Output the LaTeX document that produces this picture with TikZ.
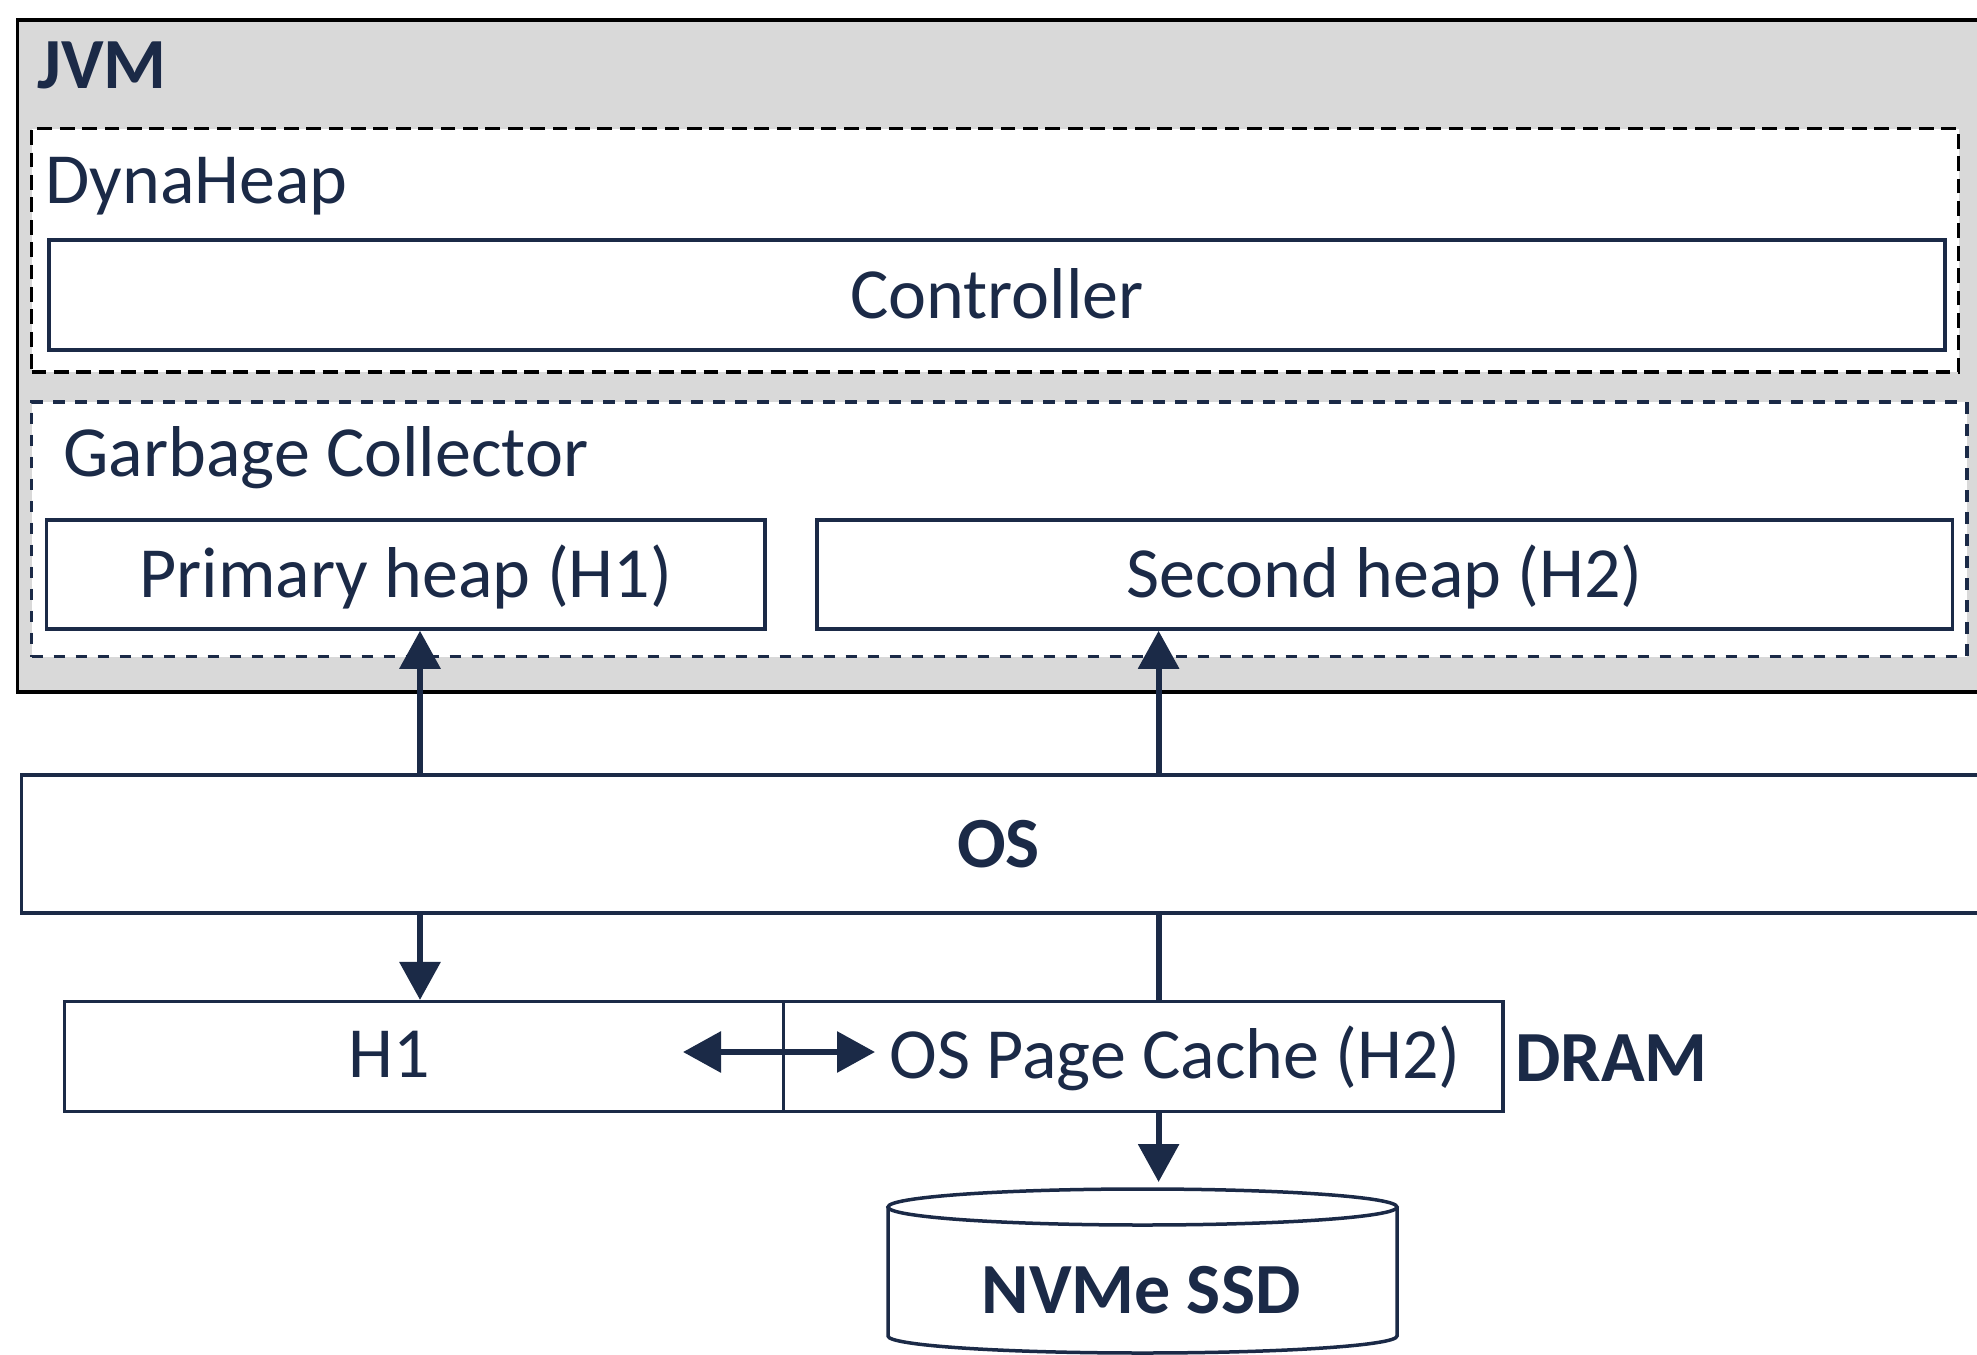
\documentclass[tikz,border=0pt]{standalone}
\usepackage{fontspec}
\setmainfont{Carlito}
\usetikzlibrary{arrows.meta}
\definecolor{navy}{HTML}{1B2A47}
\definecolor{jvmgray}{HTML}{D9D9D9}
\begin{document}
\begin{tikzpicture}[x=0.5pt,y=-0.5pt,
  txt/.style={font=\fontsize{36pt}{43pt}\selectfont, text=navy, inner sep=0pt},
  btxt/.style={font=\fontsize{36pt}{43pt}\selectfont\bfseries, text=navy, inner sep=0pt},
  capc/.style={text height=23.2pt, text depth=0pt},
  box/.style={draw=navy, line width=1.75pt, fill=white, inner sep=0pt},
  tip/.tip={Triangle[length=19pt,width=20pt]},
  arr/.style={draw=navy, line width=3.1pt, -tip},
  darr/.style={draw=navy, line width=3.1pt, tip-tip},
  link/.style={draw=navy, line width=3.1pt}]
\useasboundingbox (0,0) rectangle (1977,1355);
\clip (0,0) rectangle (1977,1355);

% JVM container
\node[draw=black, line width=1.75pt, fill=jvmgray, inner sep=0pt,
      minimum width=996.2pt, minimum height=336pt] (jvm) at (1013.8,356) {};
\node[btxt, anchor=base west] (jvmlabel) at (37,88) {JVM};

% DynaHeap container
\node[draw=black, line width=1.8pt, fill=white, dash pattern=on 7.4pt off 3.8pt, inner sep=0pt,
      minimum width=963.5pt, minimum height=121.75pt] (dyna) at (995,250.25) {};
\node[txt, anchor=base west] (dynalabel) at (45,203) {DynaHeap};
\node[box, txt, capc, minimum width=948pt, minimum height=55pt] (ctrl) at (997,295) {Controller};

% Garbage collector container
\node[draw=navy, line width=1.8pt, fill=white, dash pattern=on 5.8pt off 5.2pt, inner sep=0pt,
      minimum width=967.6pt, minimum height=127.35pt] (gc) at (999.1,529.15) {};
\node[txt, anchor=base west] (gclabel) at (63,476) {Garbage Collector};
\node[box, txt, capc, minimum width=359.2pt, minimum height=54.5pt] (ph) at (405.8,574.5) {Primary heap (H1)};
\node[box, txt, capc, minimum width=567.8pt, minimum height=54.5pt] (sh) at (1384.8,574.5) {Second heap (H2)};

% OS
\node[box, minimum width=994.3pt, minimum height=69pt] (os) at (1015.7,844) {};
\node[btxt, anchor=base] (oslabel) at (998.5,867) {OS};

% DRAM boxes
\node[box, minimum width=359.65pt, minimum height=55pt] (h1) at (423.95,1056.7) {};
\node[box, minimum width=359.7pt, minimum height=55pt] (pc) at (1143.3,1056.7) {};
\node[txt, anchor=base] (h1label) at (389,1077.7) {H1};
\node[txt, anchor=base] (pclabel) at (1175,1078) {OS Page Cache (H2)};
\node[btxt, anchor=base west] (dram) at (1515,1081) {DRAM};

% SSD cylinder
\draw[navy, line width=1.75pt, fill=white] (888,1207) -- (888,1336)
  .. controls (888,1345.4) and (1001.9,1353) .. (1142.5,1353)
  .. controls (1283.1,1353) and (1397,1345.4) .. (1397,1336) -- (1397,1207);
\draw[navy, line width=1.75pt, fill=white] (1142.5,1207) ellipse [x radius=254.5, y radius=18];
\node[btxt, capc] (ssd) at (1141,1290) {NVMe SSD};
\coordinate (ssdtop) at (1158.6,1182);

% connectors
\coordinate (ax1) at (420,0);
\coordinate (ax2) at (1158.6,0);
\draw[arr] (ax1 |- os.north) -- (ax1 |- ph.south);
\draw[arr] (ax2 |- os.north) -- (ax2 |- sh.south);
\draw[arr] (ax1 |- os.south) -- (ax1 |- h1.north);
\draw[link] (ax2 |- os.south) -- (ax2 |- pc.north);
\draw[arr] (ax2 |- pc.south) -- (ssdtop);
\coordinate (swl) at (683,1052);
\coordinate (swr) at (875,1052);
\draw[darr] (swl) -- (swr);
\end{tikzpicture}
\end{document}
